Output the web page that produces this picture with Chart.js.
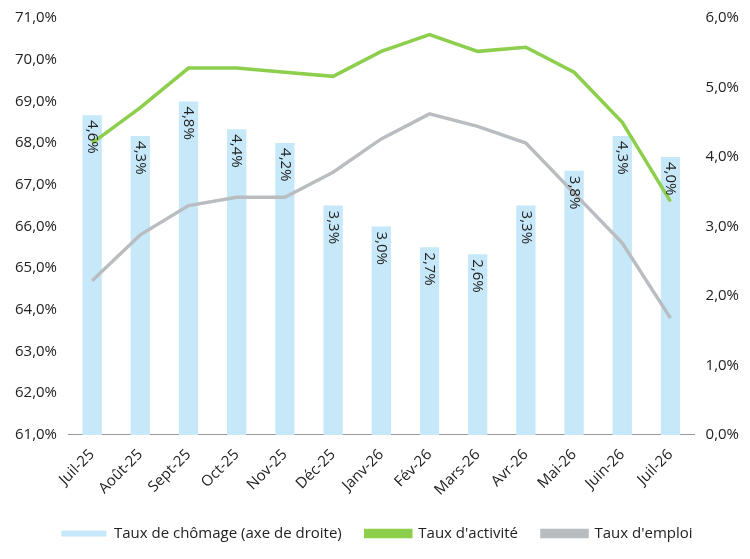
<!DOCTYPE html>
<html><head><meta charset="utf-8">
<script src="https://cdn.jsdelivr.net/npm/chart.js@4"></script>
<style>body{margin:0;background:#fff}#wrap{width:750px;height:559px}</style>
</head><body><div id="wrap"><canvas id="c"></canvas></div>
<script>
const months = ['Juil-25','Août-25','Sept-25','Oct-25','Nov-25','Déc-25','Janv-26','Fév-26','Mars-26','Avr-26','Mai-26','Juin-26','Juil-26'];
const chomage = [4.6,4.3,4.8,4.4,4.2,3.3,3.0,2.7,2.6,3.3,3.8,4.3,4.0];
const activite = [68.0,68.85,69.8,69.8,69.7,69.6,70.2,70.6,70.2,70.3,69.7,68.5,66.6];
const emploi = [64.7,65.8,66.5,66.7,66.7,67.3,68.1,68.7,68.4,68.0,66.8,65.6,63.8];

const fr = v => v.toFixed(1).replace('.', ',') + '%';

// Labels inside bars, rotated
const barLabels = {
  id: 'barLabels',
  afterDatasetsDraw(chart) {
    const ctx = chart.ctx;
    const meta = chart.getDatasetMeta(0);
    ctx.save();
    ctx.font = '15px "Open Sans", sans-serif';
    ctx.fillStyle = '#222';
    ctx.textAlign = 'left';
    ctx.textBaseline = 'middle';
    meta.data.forEach((bar, i) => {
      ctx.save();
      ctx.translate(bar.x, bar.y + 5);
      ctx.rotate(Math.PI / 2);
      ctx.fillText(fr(chomage[i]), 0, 0);
      ctx.restore();
    });
    ctx.restore();
  }
};

Chart.defaults.font.family = '"Open Sans", sans-serif';
Chart.defaults.color = '#222';

new Chart(document.getElementById('c'), {
  data: {
    labels: months,
    datasets: [
      { type: 'bar', label: 'Taux de chômage (axe de droite)', data: chomage, yAxisID: 'y1',
        backgroundColor: '#c6e8f8', barPercentage: 0.4, categoryPercentage: 1, order: 3 },
      { type: 'line', label: "Taux d'activité", data: activite, yAxisID: 'y',
        borderColor: '#8dcf4c', backgroundColor: '#8dcf4c', borderWidth: 3.5, pointRadius: 0, tension: 0, order: 1 },
      { type: 'line', label: "Taux d'emploi", data: emploi, yAxisID: 'y',
        borderColor: '#b9bdc1', backgroundColor: '#b9bdc1', borderWidth: 3.5, pointRadius: 0, tension: 0, order: 2 }
    ]
  },
  options: {
    responsive: true, maintainAspectRatio: false, animation: false,
    layout: { padding: { left: 12, right: 8, top: 18, bottom: 8 } },
    plugins: {
      legend: {
        position: 'bottom',
        labels: { font: { size: 15 }, boxWidth: 45, boxHeight: 6, padding: 24, color: '#222',
          sort: (a, b) => a.datasetIndex - b.datasetIndex }
      },
      tooltip: { enabled: false }
    },
    scales: {
      x: {
        grid: { display: false },
        border: { color: '#999' },
        ticks: { font: { size: 15 }, maxRotation: 45, minRotation: 45, color: '#222' }
      },
      y: {
        position: 'left', min: 61, max: 71,
        grid: { display: false }, border: { display: false },
        ticks: { stepSize: 1, font: { size: 15 }, callback: v => fr(v), color: '#222' }
      },
      y1: {
        position: 'right', min: 0, max: 6,
        grid: { display: false }, border: { display: false },
        ticks: { stepSize: 1, font: { size: 15 }, callback: v => fr(v), color: '#222' }
      }
    }
  },
  plugins: [barLabels]
});
</script></body></html>
